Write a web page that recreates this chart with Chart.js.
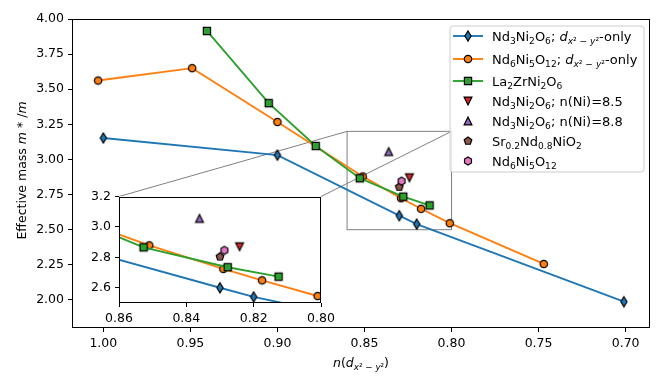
<!DOCTYPE html>
<html>
<head>
<meta charset="utf-8">
<script src="https://cdn.jsdelivr.net/npm/chart.js@4.4.1/dist/chart.umd.min.js"></script>
<style>
  body { margin: 0; background: #fff; }
  #wrap { position: relative; width: 665px; height: 388px; }
  #wrap canvas { position: absolute; }
</style>
</head>
<body>
<div id="wrap">
  <canvas id="mainchart" width="665" height="388"></canvas>
  <canvas id="insetchart" width="260" height="145"></canvas>
</div>
<script>
// values
var xTicks = [1.00, 0.95, 0.90, 0.85, 0.80, 0.75, 0.70];
var yTicks = [2.00, 2.25, 2.50, 2.75, 3.00, 3.25, 3.50, 3.75, 4.00];
var insetXTicks = [0.86, 0.84, 0.82, 0.80];
var insetYTicks = [2.6, 2.8, 3.0, 3.2];
var xRange = [0.686, 1.018];
var yRange = [1.80, 4.00];
var insetXRange = [0.80, 0.86];
var insetYRange = [2.50, 3.20];

var nd3X = [1.000, 0.900, 0.830, 0.820, 0.701];
var nd3Y = [3.153, 3.031, 2.600, 2.540, 1.987];
var nd6X = [1.003, 0.949, 0.900, 0.851, 0.829, 0.8175, 0.801, 0.747];
var nd6Y = [3.562, 3.650, 3.267, 2.879, 2.724, 2.649, 2.546, 2.256];
var laX = [0.9405, 0.905, 0.878, 0.8527, 0.8277, 0.8126];
var laY = [3.915, 3.401, 3.096, 2.866, 2.735, 2.673];
// single points: n(Ni)=8.5, n(Ni)=8.8, Sr0.2Nd0.8NiO2, Nd6Ni5O12
var extraX = [0.8242, 0.8361, 0.8300, 0.8287];
var extraY = [2.870, 3.056, 2.804, 2.846];

var seriesNames = [
    'Nd_3Ni_2O_6; $d$_{$x$² − $y$²}-only',
    'Nd_6Ni_5O_{12}; $d$_{$x$² − $y$²}-only',
    'La_2ZrNi_2O_6',
    'Nd_3Ni_2O_6; n(Ni)=8.5',
    'Nd_3Ni_2O_6; n(Ni)=8.8',
    'Sr_{0.2}Nd_{0.8}NiO_2',
    'Nd_6Ni_5O_{12}'
];
var xTitle = '$n$($d$_{$x$² − $y$²})';
var yTitle = 'Effective mass $m$ * /$m$';

// styling
var FONT = '"DejaVu Sans", sans-serif';
var FS = 12.5;
var LEGEND_FS = 13;
var colors = ['#1f77b4', '#ff7f0e', '#2ca02c', '#d62728', '#9467bd', '#8c564b', '#e377c2'];
var shapes = ['thin_diamond', 'circle', 'square', 'tri_down', 'tri_up', 'pentagon', 'hexagon'];
var INSET_LEFT = 80, INSET_TOP = 185;

function polygon(g, n, r) {
    for (var k = 0; k < n; k++) {
        var a = k * 2 * Math.PI / n;
        if (k === 0) g.moveTo(r * Math.sin(a), -r * Math.cos(a));
        else g.lineTo(r * Math.sin(a), -r * Math.cos(a));
    }
    g.closePath();
}

// matplotlib-like markers as small canvases
function makeMarker(shape, color) {
    var c = document.createElement('canvas');
    c.width = 16; c.height = 16;
    var g = c.getContext('2d');
    g.translate(8, 8);
    g.beginPath();
    if (shape === 'thin_diamond') {
        g.moveTo(0, -5); g.lineTo(3.1, 0); g.lineTo(0, 5); g.lineTo(-3.1, 0); g.closePath();
    } else if (shape === 'circle') {
        g.arc(0, 0, 3.7, 0, 2 * Math.PI);
    } else if (shape === 'square') {
        g.rect(-3.6, -3.6, 7.2, 7.2);
    } else if (shape === 'tri_up') {
        g.moveTo(0, -3.9); g.lineTo(3.9, 3.9); g.lineTo(-3.9, 3.9); g.closePath();
    } else if (shape === 'tri_down') {
        g.moveTo(0, 3.9); g.lineTo(3.9, -3.9); g.lineTo(-3.9, -3.9); g.closePath();
    } else if (shape === 'pentagon') {
        polygon(g, 5, 4);
    } else {
        polygon(g, 6, 4);
    }
    g.fillStyle = color;
    g.fill();
    g.lineWidth = 1.2;
    g.strokeStyle = '#000';
    g.stroke();
    return c;
}
var markers = shapes.map(function (s, i) { return makeMarker(s, colors[i]); });

// tiny rich text: _x / _{..} subscripts, $..$ italic
function richSegments(str) {
    var out = [], italic = false, sub = 0, group = false;
    for (var i = 0; i < str.length; i++) {
        var c = str[i];
        if (c === '$') { italic = !italic; continue; }
        if (c === '_') {
            if (str[i + 1] === '{') { group = true; i++; }
            sub = 1;
            continue;
        }
        if (c === '}' && group) { group = false; sub = 0; continue; }
        var last = out[out.length - 1];
        if (last && last.italic === italic && last.sub === sub) last.text += c;
        else out.push({ text: c, italic: italic, sub: sub });
        if (sub && !group) sub = 0;
    }
    return out;
}
function segFont(seg, size) {
    return (seg.italic ? 'italic ' : '') + (seg.sub ? size * 0.7 : size) + 'px ' + FONT;
}
function drawRich(ctx, str, x, y, size, align) {
    var segs = richSegments(str);
    var w = 0;
    segs.forEach(function (s) { ctx.font = segFont(s, size); w += ctx.measureText(s.text).width; });
    var cx = align === 'center' ? x - w / 2 : x;
    ctx.textAlign = 'left';
    ctx.textBaseline = 'alphabetic';
    ctx.fillStyle = '#000';
    segs.forEach(function (s) {
        ctx.font = segFont(s, size);
        ctx.fillText(s.text, cx, y + (s.sub ? size * 0.24 : 0));
        cx += ctx.measureText(s.text).width;
    });
}

function pts(xs, ys) {
    return xs.map(function (x, i) { return { x: x, y: ys[i] }; });
}

function buildDatasets(clip) {
    var lines = [pts(nd3X, nd3Y), pts(nd6X, nd6Y), pts(laX, laY)];
    var ds = [];
    for (var i = 0; i < seriesNames.length; i++) {
        ds.push({
            label: seriesNames[i],
            data: i < 3 ? lines[i] : [{ x: extraX[i - 3], y: extraY[i - 3] }],
            showLine: i < 3,
            borderColor: colors[i],
            backgroundColor: colors[i],
            borderWidth: 1.9,
            pointStyle: markers[i],
            pointRadius: 5,
            pointHoverRadius: 5,
            order: 10 - i,
            clip: clip
        });
    }
    return ds;
}

function axisOpts(range, ticks, decimals, reverse, size) {
    return {
        type: 'linear',
        min: range[0],
        max: range[1],
        reverse: reverse,
        grid: { display: true, drawOnChartArea: false, drawTicks: true, tickLength: 4, color: '#000', lineWidth: 1 },
        border: { display: false },
        ticks: {
            autoSkip: false, maxRotation: 0, padding: 4, color: '#000',
            font: { family: FONT, size: FS },
            callback: function (v) { return v.toFixed(decimals); }
        },
        afterBuildTicks: function (axis) {
            axis.ticks = ticks.map(function (v) { return { value: v }; });
        },
        afterFit: function (axis) {
            if (axis.isHorizontal()) axis.height = size;
            else axis.width = size;
        }
    };
}

function frame(ctx, a, color) {
    ctx.save();
    ctx.strokeStyle = color;
    ctx.lineWidth = 1;
    var l = Math.round(a.left) + 0.5, t = Math.round(a.top) + 0.5;
    var r = Math.round(a.right) - 0.5, b = Math.round(a.bottom) - 0.5;
    ctx.strokeRect(l, t, r - l, b - t);
    ctx.restore();
}

// ---- inset chart ----
var insetCanvas = document.getElementById('insetchart');
insetCanvas.style.left = INSET_LEFT + 'px';
insetCanvas.style.top = INSET_TOP + 'px';
var insetChart = new Chart(insetCanvas.getContext('2d'), {
    type: 'scatter',
    data: { datasets: buildDatasets(0) },
    options: {
        responsive: false,
        animation: false,
        events: [],
        layout: { padding: { left: 0, right: 19, top: 10, bottom: 0 } },
        scales: {
            x: axisOpts(insetXRange, insetXTicks, 2, true, 27),
            y: axisOpts(insetYRange, insetYTicks, 1, false, 39)
        },
        plugins: { legend: { display: false }, tooltip: { enabled: false } }
    },
    plugins: [{
        id: 'insetBox',
        beforeDraw: function (chart) {
            var a = chart.chartArea;
            chart.ctx.save();
            chart.ctx.fillStyle = '#fff';
            chart.ctx.fillRect(a.left, a.top, a.right - a.left, a.bottom - a.top);
            chart.ctx.restore();
        },
        afterDraw: function (chart) { frame(chart.ctx, chart.chartArea, '#000'); }
    }]
});

// ---- main chart ----
function drawLegend(chart) {
    var ctx = chart.ctx, a = chart.chartArea;
    var w = 194, h = 146, x0 = a.right - 6 - w, y0 = a.top + 7, r = 3;
    ctx.save();
    ctx.beginPath();
    ctx.moveTo(x0 + r, y0);
    ctx.arcTo(x0 + w, y0, x0 + w, y0 + h, r);
    ctx.arcTo(x0 + w, y0 + h, x0, y0 + h, r);
    ctx.arcTo(x0, y0 + h, x0, y0, r);
    ctx.arcTo(x0, y0, x0 + w, y0, r);
    ctx.closePath();
    ctx.fillStyle = 'rgba(255,255,255,0.8)';
    ctx.fill();
    ctx.strokeStyle = '#cccccc';
    ctx.lineWidth = 1;
    ctx.stroke();
    var rowH = [23, 22, 20, 20, 20, 20, 20];
    var y = y0 + 10;
    for (var i = 0; i < seriesNames.length; i++) {
        if (i < 3) {
            ctx.beginPath();
            ctx.moveTo(x0 + 3, y);
            ctx.lineTo(x0 + 33, y);
            ctx.strokeStyle = colors[i];
            ctx.lineWidth = 1.9;
            ctx.stroke();
        }
        ctx.drawImage(markers[i], x0 + 18 - 8, y - 8);
        drawRich(ctx, seriesNames[i], x0 + 42, y + 4.5, LEGEND_FS, 'left');
        y += rowH[i];
    }
    ctx.restore();
}

var mainChart = new Chart(document.getElementById('mainchart').getContext('2d'), {
    type: 'scatter',
    data: { datasets: buildDatasets(undefined) },
    options: {
        responsive: false,
        animation: false,
        events: [],
        layout: { padding: { left: 0, right: 15, top: 19, bottom: 0 } },
        scales: {
            x: axisOpts(xRange, xTicks, 2, true, 60),
            y: axisOpts(yRange, yTicks, 2, false, 72)
        },
        plugins: { legend: { display: false }, tooltip: { enabled: false } }
    },
    plugins: [{
        id: 'zoomMark',
        beforeDatasetsDraw: function (chart) {
            var ctx = chart.ctx, xs = chart.scales.x, ys = chart.scales.y;
            var l = xs.getPixelForValue(insetXRange[1]), r = xs.getPixelForValue(insetXRange[0]);
            var t = ys.getPixelForValue(insetYRange[1]), b = ys.getPixelForValue(insetYRange[0]);
            var ia = insetChart.chartArea;
            ctx.save();
            ctx.strokeStyle = '#808080';
            ctx.lineWidth = 1;
            ctx.strokeRect(l, t, r - l, b - t);
            ctx.beginPath();
            ctx.moveTo(INSET_LEFT + ia.left, INSET_TOP + ia.top);
            ctx.lineTo(l, t);
            ctx.moveTo(INSET_LEFT + ia.right, INSET_TOP + ia.top);
            ctx.lineTo(r, t);
            ctx.stroke();
            ctx.restore();
        },
        afterDraw: function (chart) {
            var ctx = chart.ctx, a = chart.chartArea;
            frame(ctx, a, '#000');
            drawLegend(chart);
            drawRich(ctx, xTitle, (a.left + a.right) / 2, 367, FS, 'center');
            ctx.save();
            ctx.translate(26, (a.top + a.bottom) / 2 - 3);
            ctx.rotate(-Math.PI / 2);
            drawRich(ctx, yTitle, 0, 0, FS, 'center');
            ctx.restore();
        }
    }]
});
</script>
</body>
</html>
